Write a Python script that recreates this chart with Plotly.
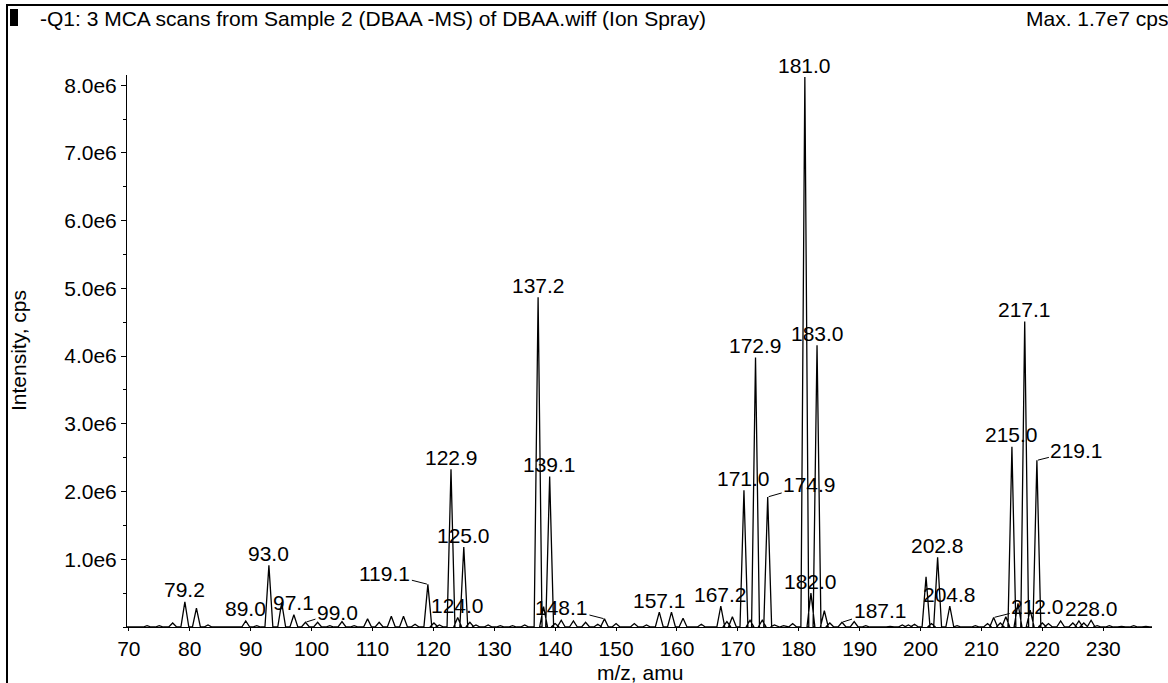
import plotly.graph_objects as go

# ---------------- data ----------------
peak_mz = [73.0, 75.0, 77.2, 79.2, 81.1, 83.0, 86.0, 89.2, 91.0, 93.0, 95.1, 97.1,
           99.0, 101.0, 103.0, 105.0, 107.0, 109.2, 111.1, 113.1, 115.1, 117.0,
           119.1, 120.1, 121.0, 122.9, 124.0, 125.0, 126.0, 127.0, 129.0, 131.0,
           133.0, 135.0, 137.2, 138.1, 139.1, 140.0, 141.0, 143.0, 145.0, 147.0,
           148.1, 150.0, 153.0, 155.0, 157.1, 159.1, 161.0, 164.0, 167.2, 168.2,
           169.1, 171.0, 172.0, 172.9, 174.0, 174.9, 176.0, 177.5, 179.0, 181.0,
           182.0, 183.0, 184.2, 185.1, 187.1, 189.1, 191.0, 195.0, 197.0, 198.0,
           199.0, 200.9, 201.8, 202.8, 204.8, 206.0, 209.0, 211.0, 212.0, 213.1,
           214.0, 215.0, 216.0, 217.1, 218.0, 219.1, 220.0, 221.0, 223.0, 225.0,
           226.0, 226.8, 228.0, 229.0, 231.0, 233.0, 235.0, 237.0]
peak_int = [0.02e6, 0.02e6, 0.06e6, 0.37e6, 0.28e6, 0.03e6, 0.01e6, 0.09e6, 0.02e6,
            0.91e6, 0.36e6, 0.18e6, 0.07e6, 0.07e6, 0.02e6, 0.08e6, 0.02e6, 0.12e6,
            0.07e6, 0.16e6, 0.16e6, 0.04e6, 0.63e6, 0.06e6, 0.03e6, 2.33e6, 0.14e6,
            1.18e6, 0.07e6, 0.03e6, 0.03e6, 0.02e6, 0.02e6, 0.03e6, 4.87e6, 0.30e6,
            2.22e6, 0.05e6, 0.10e6, 0.09e6, 0.07e6, 0.04e6, 0.12e6, 0.05e6, 0.05e6,
            0.03e6, 0.22e6, 0.22e6, 0.13e6, 0.04e6, 0.31e6, 0.08e6, 0.15e6, 2.02e6,
            0.10e6, 3.98e6, 0.10e6, 1.92e6, 0.03e6, 0.02e6, 0.05e6, 8.12e6, 0.50e6,
            4.16e6, 0.24e6, 0.06e6, 0.07e6, 0.08e6, 0.02e6, 0.01e6, 0.03e6, 0.03e6,
            0.04e6, 0.74e6, 0.05e6, 1.03e6, 0.31e6, 0.02e6, 0.02e6, 0.05e6, 0.14e6,
            0.06e6, 0.15e6, 2.66e6, 0.35e6, 4.51e6, 0.25e6, 2.46e6, 0.06e6, 0.05e6,
            0.09e6, 0.06e6, 0.09e6, 0.06e6, 0.10e6, 0.02e6, 0.02e6, 0.01e6, 0.02e6,
            0.01e6]

label_mz = [79.2, 89.2, 93.0, 97.1, 99.0, 119.1, 122.9, 124.0, 125.0, 137.2, 139.1,
            148.1, 157.1, 167.2, 171.0, 172.9, 174.9, 181.0, 182.0, 183.0, 187.1,
            202.8, 204.8, 212.0, 215.0, 217.1, 219.1, 228.0]
label_text = ["79.2", "89.0", "93.0", "97.1", "99.0", "119.1", "122.9", "124.0",
              "125.0", "137.2", "139.1", "148.1", "157.1", "167.2", "171.0", "172.9",
              "174.9", "181.0", "182.0", "183.0", "187.1", "202.8", "204.8", "212.0",
              "215.0", "217.1", "219.1", "228.0"]

y_tick_vals = [1e6, 2e6, 3e6, 4e6, 5e6, 6e6, 7e6, 8e6]
y_tick_text = ["1.0e6", "2.0e6", "3.0e6", "4.0e6", "5.0e6", "6.0e6", "7.0e6", "8.0e6"]
x_tick_vals = [70, 80, 90, 100, 110, 120, 130, 140, 150, 160, 170, 180, 190, 200, 210, 220, 230]

title_text = "-Q1: 3 MCA scans from Sample 2 (DBAA -MS) of DBAA.wiff (Ion Spray)"
max_text = "Max. 1.7e7 cps"

# ---------------- layout constants ----------------
W, H = 1168, 683
ML, MR, MT, MB = 127, 16, 75, 56
X_RANGE = [69.7, 238.0]
Y_RANGE = [0, 8.15e6]
HW = 0.65         # half width of a drawn peak (amu)
FONT = "Liberation Sans, Arial, Helvetica, sans-serif"
FS = 21

PW = W - ML - MR
PH = H - MT - MB


def px_x(p):  # pixel -> paper x
    return (p - ML) / PW


def px_y(p):  # pixel -> paper y
    return (H - MB - p) / PH


# ---------------- profile trace ----------------
xs, ys = [X_RANGE[0]], [0]
for m, h in sorted(zip(peak_mz, peak_int)):
    xs += [m - HW, m, m + HW]
    ys += [0, h, 0]
xs.append(X_RANGE[1])
ys.append(0)

fig = go.Figure()
fig.add_trace(go.Scatter(x=xs, y=ys, mode="lines",
                         line=dict(color="black", width=1.3),
                         hoverinfo="skip", showlegend=False))

# ---------------- peak labels ----------------
leader = {
    "99.0": (32, -10),
    "119.1": (-43, -11),
    "148.1": (-43, -11),
    "174.9": (42, -12),
    "187.1": (38, -12),
    "212.0": (44, -11),
    "219.1": (40, -10),
}
height_of = dict(zip(peak_mz, peak_int))
annotations = []
for m, t in zip(label_mz, label_text):
    h = height_of[m]
    if t in leader:
        ax, ay = leader[t]
        annotations.append(dict(x=m, y=h, xref="x", yref="y", text=t,
                                showarrow=True, arrowhead=0, arrowwidth=1,
                                arrowcolor="black", ax=ax, ay=ay, standoff=1,
                                font=dict(family=FONT, size=FS, color="black")))
    else:
        annotations.append(dict(x=m, y=h, xref="x", yref="y", text=t,
                                showarrow=False, xanchor="center", yanchor="middle",
                                yshift=12,
                                font=dict(family=FONT, size=FS, color="black")))

# title / max / axis titles
annotations.append(dict(x=px_x(38), y=px_y(18), xref="paper", yref="paper",
                        text=title_text, showarrow=False, xanchor="left",
                        yanchor="middle",
                        font=dict(family=FONT, size=FS, color="black")))
annotations.append(dict(x=px_x(1170), y=px_y(18), xref="paper", yref="paper",
                        text=max_text, showarrow=False, xanchor="right",
                        yanchor="middle",
                        font=dict(family=FONT, size=FS, color="black")))
annotations.append(dict(x=px_x(18), y=0.5, xref="paper", yref="paper",
                        text="Intensity, cps", showarrow=False, textangle=-90,
                        xanchor="center", yanchor="middle",
                        font=dict(family=FONT, size=FS, color="black")))
annotations.append(dict(x=0.5, y=px_y(672), xref="paper", yref="paper",
                        text="m/z, amu", showarrow=False, xanchor="center",
                        yanchor="middle", borderpad=0,
                        font=dict(family=FONT, size=FS, color="black")))

shapes = [
    # frame: top and left lines
    dict(type="line", xref="paper", yref="paper", x0=px_x(7), x1=px_x(1168),
         y0=px_y(5), y1=px_y(5), line=dict(color="black", width=2)),
    dict(type="line", xref="paper", yref="paper", x0=px_x(7), x1=px_x(7),
         y0=px_y(4), y1=px_y(683), line=dict(color="black", width=2)),
    # black marker bar next to the title
    dict(type="rect", xref="paper", yref="paper", x0=px_x(10), x1=px_x(18),
         y0=px_y(26), y1=px_y(9), fillcolor="black", line=dict(width=0)),
    # small triangle at the start of the x axis
    dict(type="path", xref="x", yref="y", xsizemode="pixel", ysizemode="pixel",
         xanchor=X_RANGE[0], yanchor=0, path="M -6,9 L 0,3 L -6,-3 Z",
         fillcolor="black", line=dict(width=0)),
]

fig.update_layout(
    width=W, height=H,
    margin=dict(l=ML, r=MR, t=MT, b=MB, pad=0),
    paper_bgcolor="white", plot_bgcolor="white",
    font=dict(family=FONT, size=FS, color="black"),
    showlegend=False,
    annotations=annotations,
    shapes=shapes,
    xaxis=dict(range=X_RANGE, tickvals=x_tick_vals, ticks="outside", ticklen=3,
               tickcolor="black", showline=True, linecolor="black", linewidth=1,
               showgrid=False, zeroline=False,
               tickfont=dict(family=FONT, size=FS, color="black")),
    yaxis=dict(range=Y_RANGE, tickvals=y_tick_vals, ticktext=y_tick_text,
               ticks="outside", ticklen=5, tickcolor="black", showline=True,
               linecolor="black", linewidth=1, showgrid=False, zeroline=False,
               minor=dict(dtick=0.5e6, tick0=0, ticks="outside", ticklen=3,
                          tickcolor="black"),
               tickfont=dict(family=FONT, size=FS, color="black")),
)

fig.write_html("out.html")
